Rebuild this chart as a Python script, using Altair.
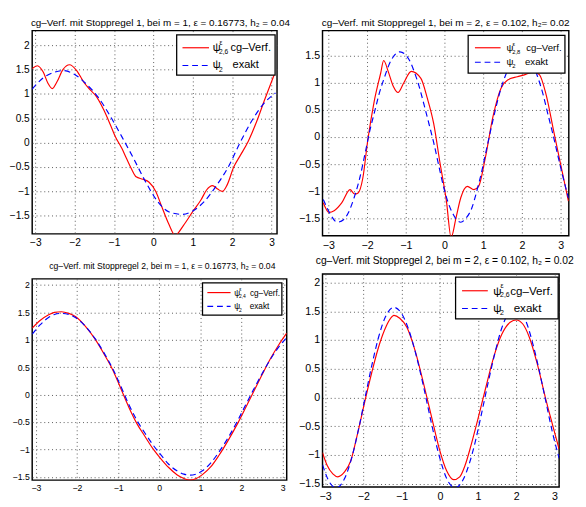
import altair as alt
import pandas as pd

FONT = "Liberation Sans"

# ---------------- data ----------------
# Panel 1: Stoppregel 1, m = 1
p1_red_x = [-3.08, -2.95, -2.8, -2.68, -2.57, -2.45, -2.3, -2.13, -1.95, -1.76, -1.6, -1.47,
            -1.26, -1.1, -0.97, -0.8, -0.68, -0.55, -0.44, -0.27, -0.11, 0.06, 0.22, 0.39,
            0.55, 0.76, 1.01, 1.21, 1.35, 1.5, 1.63, 1.75, 1.87, 2.04, 2.2, 2.41, 2.62, 2.82, 3.07]
p1_red_y = [1.52, 1.58, 1.45, 1.22, 1.11, 1.25, 1.5, 1.6, 1.48, 1.23, 1.08, 0.97,
            0.67, 0.38, 0.13, -0.12, -0.33, -0.55, -0.7, -0.75, -0.81, -1.0, -1.33, -1.67,
            -1.9, -1.7, -1.4, -1.17, -0.97, -0.88, -0.95, -1.0, -0.87, -0.5, -0.27, 0.03, 0.43, 0.87, 1.4]
p1_blue_x = [-3.08, -2.8, -2.5, -2.3, -2.0, -1.7, -1.4, -1.1, -0.8, -0.5, -0.2, 0.1, 0.4,
             0.72, 1.0, 1.3, 1.6, 1.9, 2.2, 2.5, 2.8, 3.1]
p1_blue_y = [1.1, 1.33, 1.45, 1.48, 1.4, 1.2, 0.93, 0.55, 0.12, -0.33, -0.8, -1.2, -1.42,
             -1.47, -1.4, -1.2, -0.88, -0.5, 0.0, 0.45, 0.8, 1.02]

# Panel 2: Stoppregel 1, m = 2
p2_red_x = [-3.13, -2.98, -2.85, -2.65, -2.44, -2.32, -2.23, -2.11, -1.98, -1.82, -1.65, -1.57,
            -1.45, -1.32, -1.2, -1.05, -0.86, -0.61, -0.45, -0.28, -0.12, 0.05, 0.17, 0.3, 0.42,
            0.59, 0.76, 0.88, 1.05, 1.25, 1.46, 1.63, 1.88, 2.04, 2.3, 2.45, 2.62, 2.83, 3.04, 3.2]
p2_red_y = [-1.21, -1.39, -1.36, -1.21, -0.97, -1.05, -1.03, -0.76, -0.05, 0.64, 1.17, 1.41,
            1.2, 0.93, 0.82, 1.0, 1.21, 1.08, 0.73, 0.25, -0.46, -1.18, -1.85, -1.48, -1.12,
            -0.91, -0.97, -0.91, -0.4, 0.37, 0.9, 1.05, 1.11, 1.14, 1.2, 1.15, 0.79, 0.07, -0.64, -1.18]
p2_blue_x = [-3.13, -2.95, -2.77, -2.6, -2.48, -2.33, -2.19, -2.05, -1.94, -1.8, -1.69, -1.55,
             -1.44, -1.3, -1.15, -1.0, -0.88, -0.78, -0.65, -0.53, -0.4, -0.28, -0.15, -0.03,
             0.1, 0.22, 0.32, 0.42, 0.55, 0.71, 0.84, 0.96, 1.08, 1.21, 1.33, 1.46, 1.6, 1.75,
             1.88, 2.0, 2.13, 2.27, 2.4, 2.54, 2.66, 2.79, 2.92, 3.04, 3.2]
p2_blue_y = [-1.15, -1.42, -1.57, -1.52, -1.39, -1.11, -0.76, -0.3, 0.08, 0.48, 0.79, 1.1,
             1.32, 1.5, 1.57, 1.51, 1.38, 1.2, 0.92, 0.6, 0.24, -0.1, -0.52, -0.9,
             -1.22, -1.42, -1.53, -1.57, -1.5, -1.3, -0.98, -0.64, -0.24, 0.18, 0.55, 0.9, 1.18, 1.42,
             1.54, 1.57, 1.52, 1.37, 1.12, 0.8, 0.45, 0.08, -0.32, -0.68, -1.12]

# Panel 3: Stoppregel 2, m = 1
p3_x = [-3.09, -2.9, -2.7, -2.55, -2.38, -2.2, -2.03, -1.8, -1.56, -1.35, -1.13, -0.94, -0.74,
        -0.55, -0.35, -0.15, 0.04, 0.23, 0.43, 0.6, 0.74, 0.9, 1.05, 1.25, 1.45, 1.68, 1.91,
        2.1, 2.3, 2.5, 2.7, 2.9, 3.1]
p3_red_y = [1.21, 1.35, 1.45, 1.5, 1.51, 1.48, 1.42, 1.25, 1.01, 0.75, 0.45, 0.12, -0.23,
            -0.52, -0.76, -0.99, -1.17, -1.33, -1.46, -1.53, -1.56, -1.53, -1.46, -1.32, -1.11,
            -0.83, -0.52, -0.24, 0.06, 0.36, 0.65, 0.9, 1.12]
p3_blue_y = [1.1, 1.27, 1.4, 1.46, 1.48, 1.46, 1.4, 1.25, 1.02, 0.77, 0.47, 0.16, -0.18,
             -0.46, -0.7, -0.92, -1.1, -1.27, -1.39, -1.45, -1.47, -1.45, -1.39, -1.25, -1.05,
             -0.78, -0.47, -0.19, 0.1, 0.38, 0.64, 0.86, 1.04]

# Panel 4: Stoppregel 2, m = 2
p4_red_x = [-3.07, -2.95, -2.8, -2.67, -2.5, -2.33, -2.15, -1.95, -1.78, -1.62, -1.45, -1.3,
            -1.2, -1.05, -0.86, -0.65, -0.44, -0.23, -0.02, 0.18, 0.36, 0.52, 0.66, 0.82, 0.99,
            1.2, 1.42, 1.62, 1.84, 2.0, 2.17, 2.34, 2.55, 2.76, 2.95, 3.12]
p4_red_y = [-0.96, -1.18, -1.33, -1.38, -1.3, -1.1, -0.62, -0.03, 0.44, 0.84, 1.17, 1.37,
            1.43, 1.38, 1.22, 0.82, 0.28, -0.3, -0.88, -1.28, -1.43, -1.38, -1.18, -0.82, -0.39,
            0.17, 0.73, 1.1, 1.31, 1.35, 1.28, 1.05, 0.58, 0.0, -0.48, -0.9]
p4_blue_x = [-3.07, -2.9, -2.71, -2.5, -2.29, -2.12, -1.95, -1.78, -1.62, -1.42, -1.2, -1.0,
             -0.82, -0.63, -0.44, -0.23, -0.02, 0.2, 0.4, 0.6, 0.78, 0.93, 1.08, 1.25, 1.42,
             1.62, 1.8, 1.97, 2.15, 2.3, 2.43, 2.6, 2.76, 2.95, 3.12]
p4_blue_y = [-1.17, -1.46, -1.57, -1.42, -1.01, -0.53, 0.02, 0.56, 1.01, 1.41, 1.57, 1.46,
             1.19, 0.76, 0.23, -0.42, -1.01, -1.44, -1.57, -1.44, -1.13, -0.76, -0.31, 0.22, 0.72,
             1.21, 1.48, 1.57, 1.47, 1.24, 0.94, 0.47, -0.03, -0.62, -1.06]

x_ticks = [-3, -2, -1, 0, 1, 2, 3]
y_ticks = [-1.5, -1.0, -0.5, 0.0, 0.5, 1.0, 1.5, 2.0]

titles = [
    "cg\u2013Verf. mit Stoppregel 1, bei m = 1, \u03b5  = 0.16773, h\u2082 = 0.04",
    "cg\u2013Verf. mit Stoppregel 1, bei m = 2,  \u03b5  = 0.102, h\u2082= 0.02",
    "cg\u2013Verf. mit Stoppregel 2, bei m = 1,  \u03b5  = 0.16773, h\u2082 = 0.04",
    "cg\u2013Verf. mit Stoppregel 2, bei m = 2,   \u03b5 = 0.102, h\u2082 = 0.02",
]
red_subs = ["2,6", "2,8", "2,4", "2,6"]

one = pd.DataFrame({"a": [0]})


def panel(xr, yr, xb, yb, xdom, ydom, w, h, title, tsize, tdx, toff, lsize, leg, sub):
    df = pd.concat([
        pd.DataFrame({"x": xr, "y": yr, "s": "red"}),
        pd.DataFrame({"x": xb, "y": yb, "s": "blue"}),
    ])
    xs = alt.Scale(domain=xdom, nice=False, zero=False)
    ys = alt.Scale(domain=ydom, nice=False, zero=False)
    common = dict(grid=True, gridDash=[1, 3], gridColor="#555", gridWidth=1, domain=False,
                  ticks=False, labelFontSize=lsize, labelFont=FONT, labelColor="black",
                  title=None, labelFlush=False, labelOverlap=False, labelBound=False)
    xax = alt.Axis(values=[v for v in x_ticks if xdom[0] <= v <= xdom[1]], format=".0f",
                   labelPadding=4, **common)
    yax = alt.Axis(values=[v for v in y_ticks if ydom[0] <= v <= ydom[1]], format=".1~f",
                   labelPadding=3, **common)

    base = alt.Chart(df)
    enc = dict(x=alt.X("x:Q", scale=xs, axis=xax), y=alt.Y("y:Q", scale=ys, axis=yax))
    red = base.transform_filter(alt.datum.s == "red").mark_line(
        color="#ff0000", strokeWidth=1.2, clip=True, interpolate="monotone"
    ).encode(**enc)
    blue = base.transform_filter(alt.datum.s == "blue").mark_line(
        color="#0000ff", strokeWidth=1.2, strokeDash=[6, 4], clip=True, interpolate="monotone"
    ).encode(**enc)

    bx0, bx1, by0, by1, lx0, lx1, ry, byl, psix, tx, ex, fs = leg
    sfs = fs * 0.6
    c = alt.Chart(one)
    layers = [
        c.mark_rect(fill="white", stroke="black", strokeWidth=1.3).encode(
            x=alt.value(bx0), x2=alt.value(bx1), y=alt.value(by0), y2=alt.value(by1)),
        c.mark_rule(color="#ff0000", strokeWidth=1.2).encode(
            x=alt.value(lx0), x2=alt.value(lx1), y=alt.value(ry)),
        c.mark_rule(color="#0000ff", strokeWidth=1.2, strokeDash=[6, 4]).encode(
            x=alt.value(lx0), x2=alt.value(lx1), y=alt.value(byl)),
        c.mark_text(text="\u03c8", font=FONT, fontSize=fs, align="left", baseline="middle").encode(
            x=alt.value(psix), y=alt.value(ry)),
        c.mark_text(text="\u03b5", font=FONT, fontSize=sfs, align="left", baseline="middle").encode(
            x=alt.value(psix + fs * 0.62), y=alt.value(ry - fs * 0.42)),
        c.mark_text(text=sub, font=FONT, fontSize=sfs, align="left", baseline="middle").encode(
            x=alt.value(psix + fs * 0.58), y=alt.value(ry + fs * 0.4)),
        c.mark_text(text="cg\u2013Verf.", font=FONT, fontSize=fs, align="left", baseline="middle").encode(
            x=alt.value(tx), y=alt.value(ry)),
        c.mark_text(text="\u03c8", font=FONT, fontSize=fs, align="left", baseline="middle").encode(
            x=alt.value(psix), y=alt.value(byl)),
        c.mark_text(text="2", font=FONT, fontSize=sfs, align="left", baseline="middle").encode(
            x=alt.value(psix + fs * 0.58), y=alt.value(byl + fs * 0.4)),
        c.mark_text(text="exakt", font=FONT, fontSize=fs, align="left", baseline="middle").encode(
            x=alt.value(ex), y=alt.value(byl)),
    ]
    return alt.layer(red, blue, *layers).properties(
        width=w, height=h,
        title=alt.TitleParams(title, fontSize=tsize, font=FONT, fontWeight="normal",
                              anchor="middle", dx=tdx, offset=toff, color="black"),
    )


P1 = panel(p1_red_x, p1_red_y, p1_blue_x, p1_blue_y, [-3.08, 3.14], [-1.87, 2.3], 253, 210,
           titles[0], 10.2, 6, 3, 10.5,
           (149.3, 251, 4.3, 46, 155.3, 182.7, 17.7, 36, 186.5, 205, 207, 11.4), red_subs[0])
P2 = panel(p2_red_x, p2_red_y, p2_blue_x, p2_blue_y, [-3.15, 3.21], [-1.82, 1.96], 254.5, 212,
           titles[1], 10.3, 0, 3, 11,
           (150.5, 250.5, 5, 44, 157.5, 184, 17.7, 32.7, 190.2, 210.5, 209.2, 10), red_subs[1])
P3 = panel(p3_x, p3_red_y, p3_x, p3_blue_y, [-3.09, 3.1], [-1.56, 2.11], 263, 208,
           titles[2], 8.9, 3, 8, 9,
           (176, 258, 4.2, 37.5, 181, 205, 14.2, 28.5, 208.7, 225, 224.7, 8.5), red_subs[2])
P4 = panel(p4_red_x, p4_red_y, p4_blue_x, p4_blue_y, [-3.07, 3.12], [-1.556, 2.15], 244.5, 220,
           titles[3], 10.6, 4, 8, 11,
           (137.5, 243.5, 3.3, 46.3, 144.2, 170.8, 17.3, 35.6, 176.5, 194, 197.5, 12), red_subs[3])

col1 = alt.vconcat(P1, P3, spacing=46.5, bounds="flush")
col2 = alt.vconcat(P2, P4, spacing=39.5, bounds="flush")
chart = alt.hconcat(col1, col2, spacing=5).properties(
    padding=0, background="white"
).configure_view(stroke="black", strokeWidth=1.5).configure_axis(labelOverlap=False)

chart.save("out.html", embed_options={"renderer": "svg", "actions": False})
